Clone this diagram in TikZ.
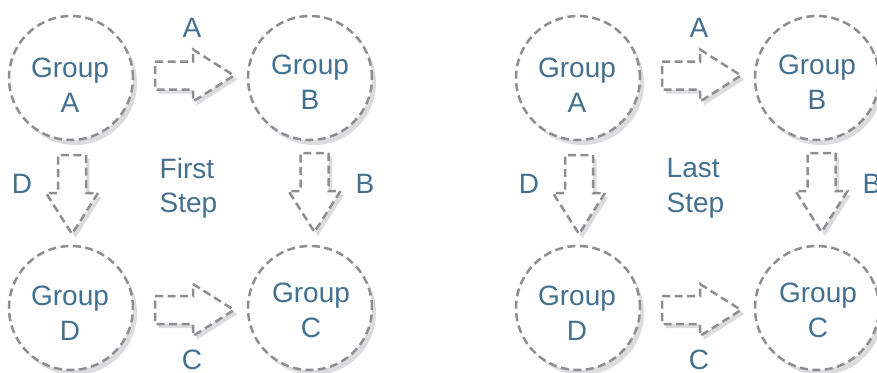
\documentclass[tikz,border=0pt]{standalone}
\usepackage{fontspec}
\setmainfont{Liberation Sans}
\usetikzlibrary{shadows}

\definecolor{txtblue}{HTML}{44708F}
\definecolor{dashgray}{HTML}{8E8E92}
\definecolor{shadowc}{HTML}{DCDCDE}

\tikzset{
  grp/.style={circle, minimum size=124pt, inner sep=0pt, fill=white,
    draw=dashgray, line width=2.5pt, dash pattern=on 8pt off 4.5pt,
    drop shadow={shadow xshift=4pt, shadow yshift=-5pt, fill=shadowc, opacity=1}},
  grptext/.style={inner sep=0pt, align=center, text=txtblue,
    font=\fontsize{28}{35}\selectfont},
  steptext/.style={inner sep=0pt, align=left, anchor=west, text=txtblue,
    font=\fontsize{28}{34.5}\selectfont},
  lbl/.style={inner sep=0pt, text=txtblue, font=\fontsize{28}{34}\selectfont},
  arrowline/.style={draw=dashgray, fill=white, line width=2.5pt,
    dash pattern=on 8pt off 4.5pt},
}

% block arrow: tail centre (#1,#2), direction #3 (0 = right, -90 = down)
\newcommand\blockarrow[3]{%
  \fill[shadowc, shift={(#1+3.5,#2+4)}, rotate=#3]
    (0,-14) -- (38,-14) -- (38,-26) -- (79,0) -- (38,26) -- (38,14) -- (0,14) -- cycle;
  \filldraw[arrowline, shift={(#1,#2)}, rotate=#3]
    (0,-14) -- (38,-14) -- (38,-26) -- (79,0) -- (38,26) -- (38,14) -- (0,14) -- cycle;}

% one four-group cycle; #1 = name prefix, #2 = first word of the centre text
\newcommand\cyclepanel[2]{%
  \node[grp] (#1A) at (71,78) {};
  \node[grp] (#1B) at (310,78) {};
  \node[grp] (#1D) at (71,308) {};
  \node[grp] (#1C) at (310,308) {};
  \node[grptext] (#1tA) at (70,85.5) {Group\\A};
  \node[grptext] (#1tB) at (310,82) {Group\\B};
  \node[grptext] (#1tD) at (70,313) {Group\\D};
  \node[grptext] (#1tC) at (311,310) {Group\\C};
  \blockarrow{155}{75.5}{0}
  \blockarrow{155}{310}{0}
  \blockarrow{72}{155}{-90}
  \blockarrow{314.5}{153}{-90}
  \node[lbl] (#1lA) at (192,28) {A};
  \node[lbl] (#1lD) at (22,184) {D};
  \node[lbl] (#1lB) at (365,184) {B};
  \node[lbl] (#1lC) at (192,360) {C};
  \node[steptext] (#1step) at (159.5,188.5) {#2\\Step};
}

\begin{document}
\begin{tikzpicture}[x=1pt, y=-1pt]
  \useasboundingbox (0,0) rectangle (877,372);
  \begin{scope}
    \cyclepanel{f}{First}
  \end{scope}
  \begin{scope}[xshift=507pt]
    \cyclepanel{l}{Last}
  \end{scope}
\end{tikzpicture}
\end{document}
